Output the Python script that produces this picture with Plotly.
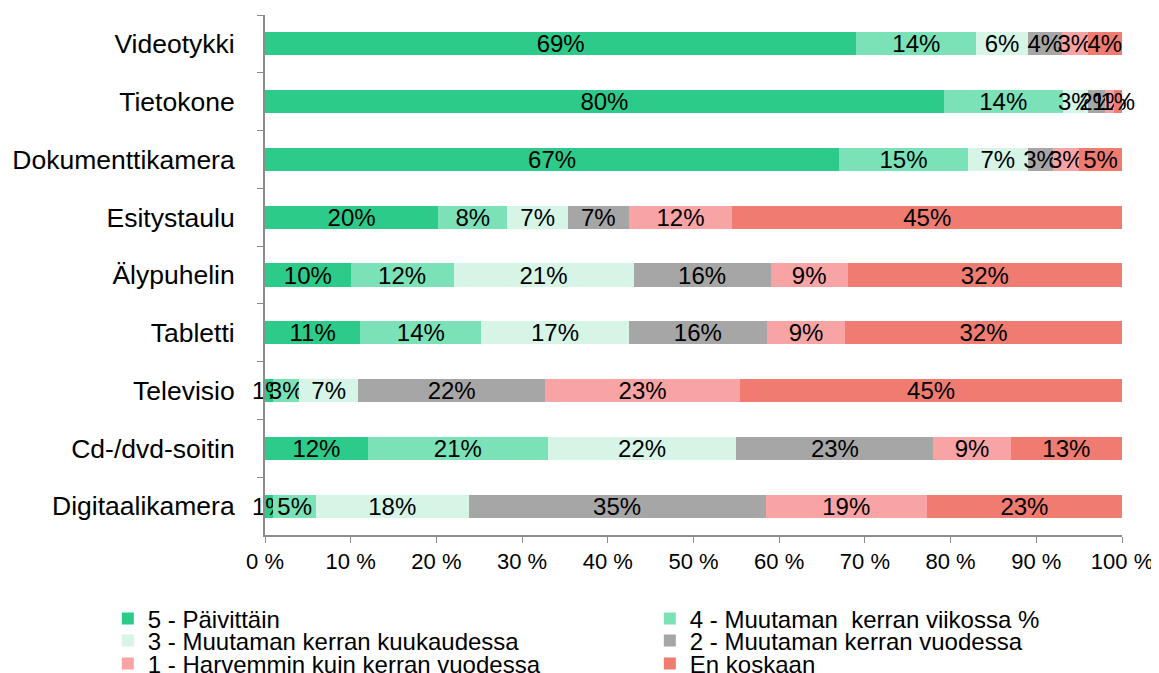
import plotly.graph_objects as go

categories = ["Videotykki", "Tietokone", "Dokumenttikamera", "Esitystaulu", "Älypuhelin",
              "Tabletti", "Televisio", "Cd-/dvd-soitin", "Digitaalikamera"]

series_names = ["5 - Päivittäin", "4 - Muutaman  kerran viikossa %", "3 - Muutaman kerran kuukaudessa",
                "2 - Muutaman kerran vuodessa", "1 - Harvemmin kuin kerran vuodessa", "En koskaan"]

s5 = [69, 80, 67, 20, 10, 11, 1, 12, 1]
s4 = [14, 14, 15, 8, 12, 14, 3, 21, 5]
s3 = [6, 3, 7, 7, 21, 17, 7, 22, 18]
s2 = [4, 2, 3, 7, 16, 16, 22, 23, 35]
s1 = [3, 1, 3, 12, 9, 9, 23, 9, 19]
s0 = [4, 1, 5, 45, 32, 32, 45, 13, 23]
series_values = [s5, s4, s3, s2, s1, s0]

colors = ["#2DCB89", "#7BE2B8", "#D6F5E7", "#A6A6A6", "#F8A4A5", "#EF7B71"]

x_tickvals = [0, 10, 20, 30, 40, 50, 60, 70, 80, 90, 100]
x_ticktext = ["0 %", "10 %", "20 %", "30 %", "40 %", "50 %", "60 %", "70 %", "80 %", "90 %", "100 %"]

font = "Arial, Liberation Sans, sans-serif"
legend_ids = ["legend", "legend", "legend2", "legend2", "legend3", "legend3"]

fig = go.Figure()
for name, vals, col, lg in zip(series_names, series_values, colors, legend_ids):
    fig.add_trace(go.Bar(
        y=categories, x=vals, name=name, orientation="h",
        marker=dict(color=col, line=dict(width=0)),
        text=[f"{v}%" for v in vals],
        textposition="inside", insidetextanchor="middle", textangle=0,
        constraintext="none", cliponaxis=False,
        insidetextfont=dict(family=font, size=24, color="black"),
        legend=lg,
    ))

leg_common = dict(orientation="h", x=-0.1834, xanchor="left", yanchor="middle",
                  entrywidth=497, entrywidthmode="pixels", traceorder="normal",
                  font=dict(family=font, size=24, color="black"),
                  bgcolor="rgba(0,0,0,0)", itemwidth=30)

fig.update_layout(
    barmode="stack", barnorm="percent", bargap=0.60,
    width=1159, height=673,
    margin=dict(l=257, r=45, t=7, b=146, autoexpand=False),
    plot_bgcolor="white", paper_bgcolor="white",
    uniformtext=dict(minsize=24, mode="show"),
    showlegend=True,
    legend=dict(y=-0.1615, **leg_common),
    legend2=dict(y=-0.2038, **leg_common),
    legend3=dict(y=-0.2480, **leg_common),
    xaxis=dict(range=[0, 100], tickvals=x_tickvals, ticktext=x_ticktext,
               showgrid=False, zeroline=False, showline=True, linecolor="#8C8C8C", linewidth=2,
               ticks="outside", ticklen=6, tickcolor="#8C8C8C", tickwidth=1,
               ticklabelstandoff=0,
               tickfont=dict(family=font, size=22, color="black")),
    yaxis=dict(categoryorder="array", categoryarray=categories, autorange="reversed",
               showgrid=False, showline=True, linecolor="#8C8C8C", linewidth=2,
               ticks="outside", ticklen=6, tickcolor="#8C8C8C", tickwidth=1,
               tickson="boundaries", ticklabelstandoff=23,
               tickfont=dict(family=font, size=26.5, color="black")),
)

fig.write_html("out.html")
